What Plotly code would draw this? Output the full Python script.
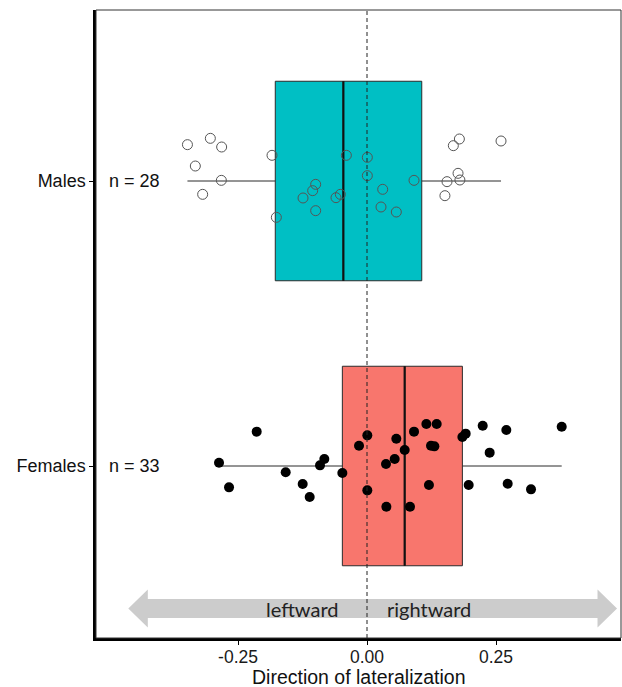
import numpy as np
import plotly.graph_objects as go

# ---- data ----
groups = ["Males", "Females"]
group_pos = [2, 1]
n_labels = ["n = 28", "n = 33"]

males_x = [-0.348, -0.3036, -0.2817, -0.3327, -0.2823, -0.3185, -0.1841, -0.1757,
           -0.0995, -0.1053, -0.124, -0.0995, -0.0517, -0.0601, -0.040, 0.0006,
           0.0006, 0.0304, 0.0271, 0.0568, 0.0911, 0.179, 0.1673, 0.2597,
           0.1764, 0.155, 0.180, 0.151]
males_jit = [0.1275, 0.1497, 0.1193, 0.0526, 0.0023, -0.0468, 0.0901, -0.1275,
             -0.0117, -0.0339, -0.0596, -0.1041, -0.0468, -0.0585, 0.0901, 0.0830,
             0.0187, -0.0292, -0.0912, -0.1088, 0.0023, 0.1474, 0.124, 0.1404,
             0.0269, -0.0023, 0.0035, -0.0515]

females_x = [-0.2868, -0.2674, -0.2138, -0.1576, -0.1247, -0.1111, -0.0911, -0.0827,
             -0.0478, -0.0155, 0.0006, 0.0006, 0.0368, 0.0536, 0.0568, 0.0375,
             0.073, 0.0833, 0.0911, 0.115, 0.135, 0.124, 0.1305, 0.120,
             0.1848, 0.1912, 0.197, 0.2242, 0.2377, 0.270, 0.2726, 0.3178, 0.3773]
females_jit = [0.0117, -0.0749, 0.1205, -0.0222, -0.0632, -0.1088, 0.0023, 0.0246,
               -0.0246, 0.0713, 0.1076, -0.0854, 0.007, 0.0246, 0.0959, -0.1427,
               0.0561, -0.1427, 0.1205, 0.1474, 0.1474, 0.0713, 0.069, -0.0667,
               0.1018, 0.1135, -0.0667, 0.1415, 0.0468, 0.1263, -0.062, -0.0819, 0.138]

x_ticks = [-0.25, 0.0, 0.25]
x_tick_text = ["-0.25", "0.00", "0.25"]
x_title = "Direction of lateralization"
arrow_x = [-0.4626, 0.4845]
arrow_y = 0.5
dir_labels = ["leftward", "rightward"]

# ---- styling ----
TEAL = "#00BFC4"
SALMON = "#F8766D"
FONT = "Liberation Sans, Arial, sans-serif"
BOX_W = 0.7

fig = go.Figure()


def stats(v):
    v = np.asarray(v)
    q1, med, q3 = np.percentile(v, [25, 50, 75])
    iqr = q3 - q1
    lo = v[v >= q1 - 1.5 * iqr].min()
    hi = v[v <= q3 + 1.5 * iqr].max()
    return q1, med, q3, lo, hi


# arrow polygon (shape, drawn below everything)
hl = 0.0378   # head length (x units)
hh = 0.0663   # head half height (y units)
sh = 0.0333   # shaft half height
x0, x1 = arrow_x
y = arrow_y
path = (f"M {x0},{y} L {x0+hl},{y+hh} L {x0+hl},{y+sh} L {x1-hl},{y+sh} "
        f"L {x1-hl},{y+hh} L {x1},{y} L {x1-hl},{y-hh} L {x1-hl},{y-sh} "
        f"L {x0+hl},{y-sh} L {x0+hl},{y-hh} Z")

for name, pos, vals, color in [("Males", 2, males_x, TEAL), ("Females", 1, females_x, SALMON)]:
    q1, med, q3, lo, hi = stats(vals)
    fig.add_trace(go.Box(
        orientation="h", y=[pos], q1=[q1], median=[med], q3=[q3],
        lowerfence=[lo], upperfence=[hi], width=BOX_W, whiskerwidth=0,
        fillcolor=color, line=dict(color="#2b2b2b", width=1),
        boxpoints=False, hoverinfo="skip", showlegend=False, name=name))
    fig.add_trace(go.Scatter(
        x=[med, med], y=[pos - BOX_W / 2, pos + BOX_W / 2], mode="lines",
        line=dict(color="#111111", width=2.2), hoverinfo="skip", showlegend=False))

fig.add_trace(go.Scatter(
    x=males_x, y=[2 + j for j in males_jit], mode="markers",
    marker=dict(symbol="circle-open", size=10, color="#555555", line=dict(width=1)),
    showlegend=False))
fig.add_trace(go.Scatter(
    x=females_x, y=[1 + j for j in females_jit], mode="markers",
    marker=dict(symbol="circle", size=10, color="#000000"),
    showlegend=False))

shapes = [
    dict(type="path", path=path, xref="x", yref="y", fillcolor="#CCCCCC",
         line=dict(width=0), layer="below"),
    dict(type="line", xref="x", yref="paper", x0=0, x1=0, y0=0, y1=1,
         line=dict(color="#222222", width=1, dash="4px,3px"), layer="above"),
    dict(type="rect", xref="paper", yref="paper", x0=0, x1=1, y0=0, y1=1,
         line=dict(color="#333333", width=1), layer="above"),
]

annotations = []
for lab, pos in zip(n_labels, group_pos):
    annotations.append(dict(x=-0.45, y=pos, xref="x", yref="y", text=lab,
                            showarrow=False, xanchor="center", yanchor="middle",
                            font=dict(family=FONT, size=18, color="#111111")))
annotations.append(dict(x=-0.05, y=arrow_y, xref="x", yref="y", text=dir_labels[0],
                        showarrow=False, xanchor="right", yanchor="middle",
                        font=dict(family="Lato, Liberation Sans, sans-serif", size=20, color="#222222")))
annotations.append(dict(x=0.035, y=arrow_y, xref="x", yref="y", text=dir_labels[1],
                        showarrow=False, xanchor="left", yanchor="middle",
                        font=dict(family="Lato, Liberation Sans, sans-serif", size=20, color="#222222")))
# x-axis title placed just below the tick labels
annotations.append(dict(x=0.5, y=0, xref="paper", yref="paper", yshift=-39,
                        text=x_title, showarrow=False, xanchor="center", yanchor="middle",
                        font=dict(family=FONT, size=19.5, color="#111111")))

fig.update_layout(
    width=622, height=687,
    margin=dict(l=96, r=1, t=10, b=49),
    plot_bgcolor="white", paper_bgcolor="white",
    shapes=shapes, annotations=annotations,
    xaxis=dict(range=[-0.5252, 0.4922], tickvals=x_ticks, ticktext=x_tick_text,
               showgrid=False, zeroline=False, showline=True, linecolor="black",
               linewidth=2.5, ticks="outside", ticklen=4, tickcolor="black",
               ticklabelstandoff=-3,
               tickfont=dict(family=FONT, size=17.5, color="#1a1a1a")),
    yaxis=dict(range=[0.3965, 2.6], tickvals=group_pos, ticktext=groups,
               showgrid=False, zeroline=False, showline=True, linecolor="black",
               linewidth=2.5, ticks="outside", ticklen=4, tickcolor="black",
               tickfont=dict(family=FONT, size=18, color="#111111")),
)

fig.write_html("out.html", config={"displayModeBar": False},
               post_script="document.body.style.margin='0';document.body.style.overflow='hidden';")
